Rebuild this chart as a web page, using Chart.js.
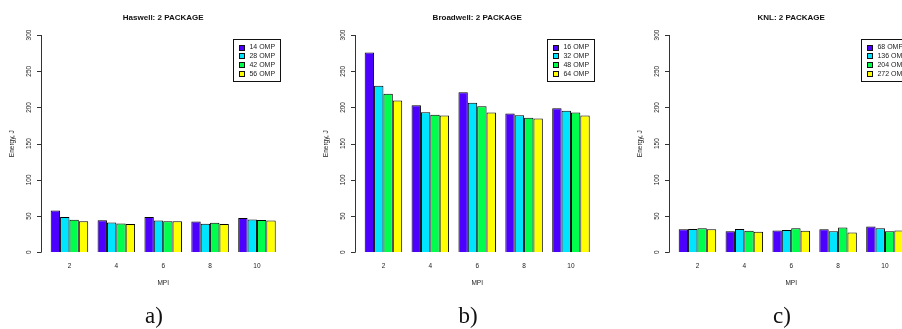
<!DOCTYPE html>
<html>
<head>
<meta charset="utf-8">
<script src="https://cdn.jsdelivr.net/npm/chart.js@4.4.1/dist/chart.umd.min.js"></script>
<style>
    body { margin: 0; width: 902px; height: 329px; overflow: hidden; background: #fff; position: relative; }
    .panel { position: absolute; top: 0; width: 314px; height: 329px; }
    .panel canvas { position: absolute; left: 0; top: 0; }
    .caption { position: absolute; left: 0; width: 308px; top: 303px; text-align: center;
        font-family: "Liberation Serif", "DejaVu Serif", serif; font-size: 23px; color: #111; }
</style>
</head>
<body>
<script>
const mpi = ["2", "4", "6", "8", "10"]
const yTicks = [0, 50, 100, 150, 200, 250, 300]
const colors = ["#4C00FF", "#00E5FF", "#00FF4D", "#FFFF00"]

const haswellOmp = ["14 OMP", "28 OMP", "42 OMP", "56 OMP"]
const haswell14 = [57.8, 44.2, 48.6, 42.4, 47.2]
const haswell28 = [48.8, 41.0, 43.8, 39.4, 45.2]
const haswell42 = [45.0, 39.7, 42.8, 40.8, 44.5]
const haswell56 = [43.0, 38.9, 42.8, 38.9, 43.8]

const broadwellOmp = ["16 OMP", "32 OMP", "48 OMP", "64 OMP"]
const broadwell16 = [276.0, 203.0, 221.0, 191.5, 199.0]
const broadwell32 = [230.0, 193.3, 206.3, 189.3, 195.5]
const broadwell48 = [219.0, 189.8, 201.5, 185.8, 193.0]
const broadwell64 = [209.7, 188.7, 193.0, 184.8, 189.0]

const knlOmp = ["68 OMP", "136 OMP", "204 OMP", "272 OMP"]
const knl68 = [31.8, 29.0, 30.0, 31.8, 35.5]
const knl136 = [32.2, 32.2, 30.9, 29.2, 33.2]
const knl204 = [33.2, 29.8, 33.2, 34.1, 29.2]
const knl272 = [31.8, 28.4, 29.8, 27.2, 30.0]

const panels = [
    { title: "Haswell: 2 PACKAGE", caption: "a)", labels: haswellOmp, series: [haswell14, haswell28, haswell42, haswell56] },
    { title: "Broadwell: 2 PACKAGE", caption: "b)", labels: broadwellOmp, series: [broadwell16, broadwell32, broadwell48, broadwell64] },
    { title: "KNL: 2 PACKAGE", caption: "c)", labels: knlOmp, series: [knl68, knl136, knl204, knl272] }
]

const panelWidth = 314
const sans = "'Liberation Sans', Arial, sans-serif"

// base-R style axes, titles and boxed legend
const rStyle = {
    id: "rStyle",
    afterDraw(chart, args, opts) {
        const ctx = chart.ctx
        const area = chart.chartArea
        const x = chart.scales.x
        const y = chart.scales.y
        const axisX = area.left - 5
        const zero = y.getPixelForValue(0)
        const midX = (area.left + area.right) / 2

        ctx.save()
        ctx.strokeStyle = "#333"
        ctx.fillStyle = "#222"
        ctx.lineWidth = 1

        ctx.beginPath()
        ctx.moveTo(axisX + 0.5, y.getPixelForValue(yTicks[0]))
        ctx.lineTo(axisX + 0.5, y.getPixelForValue(yTicks[yTicks.length - 1]))
        yTicks.forEach(t => {
            const py = Math.round(y.getPixelForValue(t)) + 0.5
            ctx.moveTo(axisX + 0.5, py)
            ctx.lineTo(axisX - 4, py)
        })
        ctx.stroke()

        ctx.font = `6.5px ${sans}`
        ctx.textAlign = "center"
        ctx.textBaseline = "middle"
        yTicks.forEach(t => {
            ctx.save()
            ctx.translate(axisX - 12, y.getPixelForValue(t))
            ctx.rotate(-Math.PI / 2)
            ctx.fillText(String(t), 0, 0)
            ctx.restore()
        })

        ctx.save()
        ctx.translate(12, (y.getPixelForValue(-12) + y.getPixelForValue(312)) / 2)
        ctx.rotate(-Math.PI / 2)
        ctx.fillText("Energy, J", 0, 0)
        ctx.restore()

        chart.data.labels.forEach((lab, i) => ctx.fillText(lab, x.getPixelForValue(i), zero + 14))
        ctx.fillText("MPI", midX, zero + 30.5)

        ctx.font = `bold 8px ${sans}`
        ctx.fillStyle = "#111"
        ctx.fillText(opts.title, midX, 18)

        // legend
        const boxL = area.right - 47, boxT = y.getPixelForValue(300) + 4
        ctx.strokeStyle = "#111"
        ctx.strokeRect(Math.round(boxL) + 0.5, Math.round(boxT) + 0.5, 47, 42)
        ctx.font = `7px ${sans}`
        ctx.textAlign = "left"
        ctx.fillStyle = "#222"
        chart.data.datasets.forEach((ds, i) => {
            const cy = boxT + 8 + i * 8.7
            ctx.fillStyle = ds.backgroundColor
            ctx.fillRect(Math.round(boxL) + 6, Math.round(cy - 2.5), 5, 5)
            ctx.strokeStyle = "#111"
            ctx.strokeRect(Math.round(boxL) + 6.5, Math.round(cy - 2.5) + 0.5, 5, 5)
            ctx.fillStyle = "#222"
            ctx.fillText(ds.label, boxL + 16, cy + 0.5)
        })
        ctx.restore()
    }
}

function createPanel(panel, i) {
    const wrap = document.createElement("div")
    wrap.className = "panel"
    wrap.style.left = `${i * panelWidth}px`

    const canvas = document.createElement("canvas")
    canvas.width = panelWidth
    canvas.height = 329
    wrap.appendChild(canvas)

    const caption = document.createElement("div")
    caption.className = "caption"
    caption.textContent = panel.caption
    wrap.appendChild(caption)
    document.body.appendChild(wrap)

    return new Chart(canvas.getContext("2d"), {
        type: "bar",
        data: {
            labels: mpi,
            datasets: panel.series.map((data, k) => ({
                label: panel.labels[k],
                data: data,
                backgroundColor: colors[k],
                borderColor: "#000",
                borderWidth: 1,
                categoryPercentage: 0.8,
                barPercentage: 1.0
            }))
        },
        options: {
            responsive: false,
            animation: false,
            devicePixelRatio: 1,
            layout: { padding: { left: 46, right: 33.6, top: 35, bottom: 76.7 } },
            scales: {
                x: { display: false },
                y: { display: false, min: 0, max: 300 }
            },
            plugins: {
                legend: { display: false },
                tooltip: { enabled: false },
                rStyle: { title: panel.title }
            }
        },
        plugins: [rStyle]
    })
}

window.addEventListener("load", () => {
    panels.forEach((p, i) => createPanel(p, i))
})
</script>
</body>
</html>
